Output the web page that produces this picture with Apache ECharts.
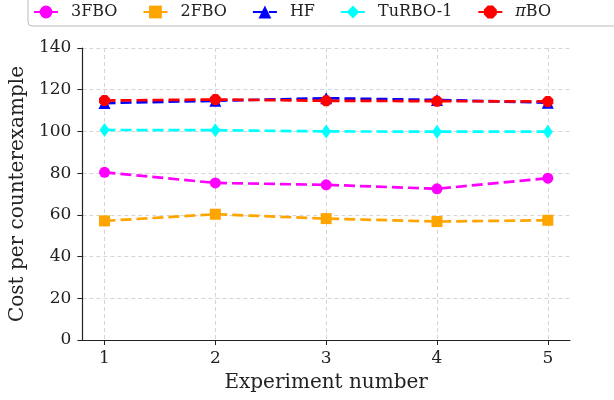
<!DOCTYPE html>
<html>
<head>
<meta charset="utf-8">
<script src="https://cdn.jsdelivr.net/npm/echarts@6/dist/echarts.min.js"></script>
<style>
  html, body { margin: 0; padding: 0; background: #fff; }
  #chart { width: 614px; height: 400px; }
</style>
</head>
<body>
<div id="chart"></div>
<script>
// data
const experiments = [1, 2, 3, 4, 5]
const fbo3 = [80.4, 75.3, 74.4, 72.5, 77.6]
const fbo2 = [57.1, 60.3, 58.2, 56.8, 57.4]
const hf = [113.6, 114.7, 115.9, 115.1, 113.8]
const turbo1 = [100.7, 100.6, 100.0, 99.9, 99.9]
const pibo = [114.8, 115.3, 114.7, 114.5, 114.4]
const legendNames = ['3FBO', '2FBO', 'HF', 'TuRBO-1', 'πBO']

const FONT = 'DejaVu Serif'
const octagon = 'path://M3,0 L7,0 L10,3 L10,7 L7,10 L3,10 L0,7 L0,3 Z'

const mkSeries = (name, values, color, symbol, size) => ({
  name,
  type: 'line',
  data: experiments.map((x, i) => [x, values[i]]),
  symbol,
  symbolSize: size,
  itemStyle: { color },
  lineStyle: { color, width: 2.7, type: [11, 5] },
})

const chart = echarts.init(document.getElementById('chart'))

chart.setOption({
  animation: false,
  backgroundColor: '#fff',
  textStyle: { fontFamily: FONT },
  grid: { left: 79, right: 44, top: 48, bottom: 60 },
  legend: {
    top: -4,
    left: 28,
    width: 700,
    padding: [8, 90, 6, 5],
    itemGap: 25,
    itemWidth: 24,
    itemHeight: 16,
    borderColor: '#bbb',
    borderWidth: 1,
    borderRadius: 4,
    data: legendNames,
    formatter: (name) => name === 'πBO' ? '{p|π}{t|BO}' : '{s|' + name + '}',
    textStyle: {
      fontFamily: FONT,
      fontSize: 16,
      color: '#222',
      rich: {
        s: { fontFamily: FONT, fontSize: 16, color: '#222', padding: [0, 0, 0, 8] },
        p: { fontFamily: FONT, fontSize: 16, fontStyle: 'italic', color: '#222', padding: [0, 0, 0, 8] },
        t: { fontFamily: FONT, fontSize: 16, color: '#222' },
      },
    },
  },
  xAxis: {
    type: 'value',
    min: 0.8,
    max: 5.2,
    name: 'Experiment number',
    nameLocation: 'middle',
    nameGap: 33,
    nameTextStyle: { fontFamily: FONT, fontSize: 20, color: '#222' },
    axisLine: { lineStyle: { color: '#222', width: 1.2 } },
    axisTick: { show: true, length: 5, customValues: experiments, lineStyle: { color: '#222' } },
    axisLabel: { customValues: experiments, fontFamily: FONT, fontSize: 17, color: '#222', margin: 10 },
    splitLine: { show: true, lineStyle: { color: '#d5d5d5', type: [4, 3] } },
  },
  yAxis: {
    type: 'value',
    min: 0,
    max: 140,
    interval: 20,
    name: 'Cost per counterexample',
    nameLocation: 'middle',
    nameGap: 50,
    nameTextStyle: { fontFamily: FONT, fontSize: 20, color: '#222' },
    axisLine: { show: true, lineStyle: { color: '#222', width: 1.2 } },
    axisTick: { show: true, length: 5, lineStyle: { color: '#222' } },
    axisLabel: { fontFamily: FONT, fontSize: 17, color: '#222', margin: 11 },
    splitLine: { show: true, lineStyle: { color: '#d5d5d5', type: [4, 3] } },
  },
  series: [
    mkSeries('3FBO', fbo3, '#ff00ff', 'circle', 11),
    mkSeries('2FBO', fbo2, '#ffa500', 'rect', 11),
    mkSeries('HF', hf, '#0000ff', 'triangle', 12),
    mkSeries('TuRBO-1', turbo1, '#00ffff', 'diamond', [10, 14]),
    mkSeries('πBO', pibo, '#ff0000', octagon, 11),
  ],
})
</script>
</body>
</html>
